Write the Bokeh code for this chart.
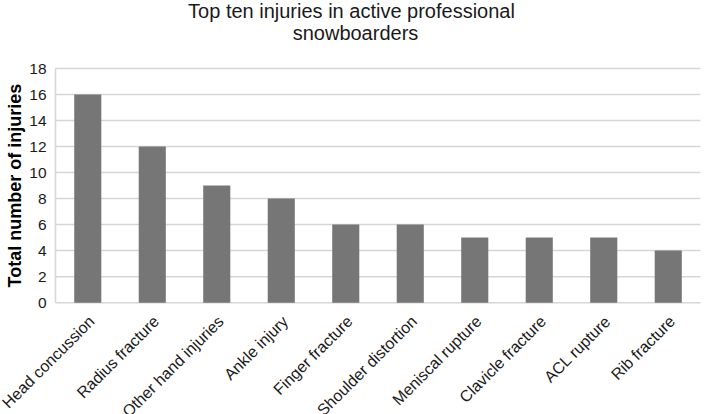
import math
from bokeh.plotting import figure
from bokeh.models import ColumnDataSource, Range1d
from bokeh.core.properties import value
from bokeh.embed import file_html
from bokeh.resources import INLINE

injuries = ["Head concussion", "Radius fracture", "Other hand injuries", "Ankle injury",
            "Finger fracture", "Shoulder distortion", "Meniscal rupture", "Clavicle fracture",
            "ACL rupture", "Rib fracture"]
counts = [16, 12, 9, 8, 6, 6, 5, 5, 5, 4]
y_ticks = [0, 2, 4, 6, 8, 10, 12, 14, 16, 18]
y_label = "Total number of injuries"
title_lines = ["Top ten injuries in active professional", "snowboarders"]

n = len(injuries)
pos = [i + 0.5 for i in range(n)]          # category slots 0..n on a numeric scale
ymax = y_ticks[-1]

FONT = value("Liberation Sans")
TXT = "#1a1a1a"
GRID = "#d6d6d6"

# The frame fills the whole canvas so that rotated labels, title and axis texts
# (drawn as text glyphs) are not clipped.
x_range = Range1d(-0.853, n + 0.155)
y_range = Range1d(-8.6, ymax + 5.23)
p = figure(width=710, height=414, x_range=x_range, y_range=y_range,
           output_backend="svg", toolbar_location=None,
           x_axis_location=None, y_axis_location=None,
           min_border_left=0, min_border_right=0, min_border_top=0, min_border_bottom=0)
p.title = None
p.outline_line_color = None
p.xgrid.visible = False
p.ygrid.visible = False

# horizontal gridlines at the y ticks
p.segment(x0=[0] * len(y_ticks), x1=[n] * len(y_ticks), y0=y_ticks, y1=y_ticks,
          line_color=GRID, line_width=1.5)
# left spine
p.segment(x0=[0], x1=[0], y0=[y_ticks[0]], y1=[ymax], line_color=GRID, line_width=1.5)

# bars
src = ColumnDataSource(dict(x=pos, y=counts, name=injuries, base=[y_ticks[0]] * n))
p.vbar(x="x", top="y", width=0.42, source=src, fill_color="#767676", line_color=None)

# rotated category labels
p.text(x="x", y="base", text="name", source=src, angle=math.pi / 4,
       text_align="right", text_baseline="middle", x_offset=4, y_offset=16,
       text_font=FONT, text_font_size="16px", text_color=TXT)

# y tick labels
p.text(x=[0] * len(y_ticks), y=y_ticks, text=[str(t) for t in y_ticks],
       text_align="right", text_baseline="middle", x_offset=-9,
       text_font=FONT, text_font_size="15.5px", text_color=TXT)

# y axis title
p.text(x=[0], y=[ymax / 2], text=[y_label], angle=math.pi / 2,
       text_align="center", text_baseline="middle", x_offset=-41,
       text_font=FONT, text_font_size="18px", text_font_style="bold", text_color="#000000")

# two-line chart title, centred on the canvas
xc = (x_range.start + x_range.end) / 2
p.text(x=[xc, xc], y=[ymax, ymax], text=title_lines, x_offset=[-4, 0], y_offset=[-58, -36],
       text_align="center", text_baseline="alphabetic",
       text_font=FONT, text_font_size="20px", text_color=TXT)

open("out.html", "w").write(file_html(p, INLINE))
